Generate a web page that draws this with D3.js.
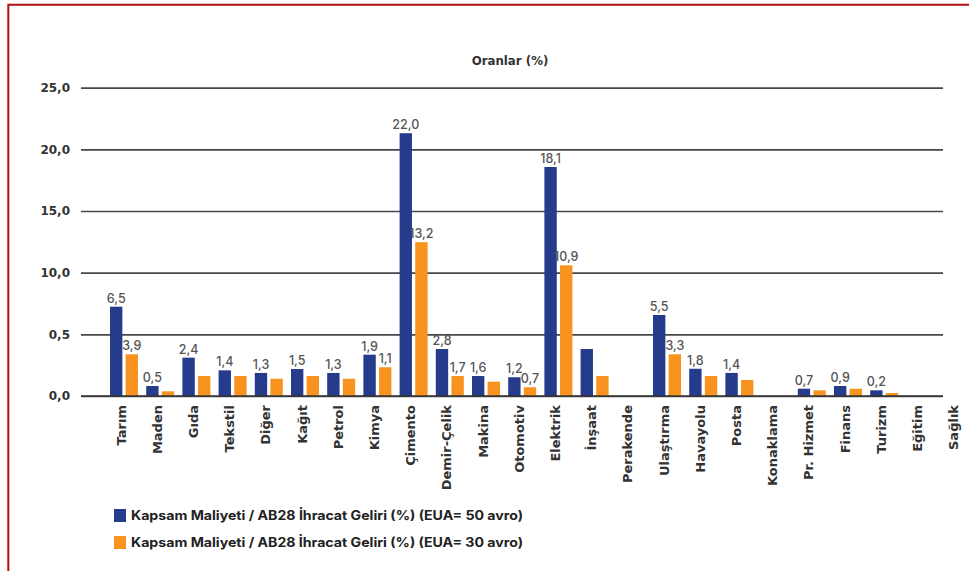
<!DOCTYPE html>
<html>
<head>
<meta charset="utf-8">
<script src="https://cdn.jsdelivr.net/npm/d3@7"></script>
<style>
  html, body { margin: 0; padding: 0; background: #fff; }
  svg { display: block; }
  text { font-family: Inter, "Open Sans", "DejaVu Sans", sans-serif; }
</style>
</head>
<body>
<svg id="chart" width="969" height="571"></svg>
<script>
// ---- Data ----
const categories = ["Tarım","Maden","Gıda","Tekstil","Diğer","Kağıt","Petrol","Kimya","Çimento","Demir-Çelik","Makina","Otomotiv","Elektrik","İnşaat","Perakende","Ulaştırma","Havayolu","Posta","Konaklama","Pr. Hizmet","Finans","Turizm","Eğitim","Sağlık"];
const series50 = [7.24,0.81,3.11,2.08,1.87,2.19,1.87,3.35,21.31,3.81,1.62,1.52,18.57,3.81,0,6.57,2.21,1.87,0,0.59,0.81,0.46,0,0];
const series30 = [3.38,0.38,1.62,1.62,1.40,1.62,1.40,2.33,12.47,1.62,1.16,0.71,10.60,1.62,0,3.38,1.62,1.30,0,0.46,0.59,0.24,0,0];
const labels50 = ["6,5","0,5","2,4","1,4","1,3","1,5","1,3","1,9","22,0","2,8","1,6","1,2","18,1","","","5,5","1,8","1,4","","0,7","0,9","0,2","",""];
const labels30 = ["3,9","","","","","","","1,1","13,2","1,7","","0,7","10,9","","","3,3","","","","","","","",""];
const tickValues = [0,5,10,15,20,25];
const tickLabels = ["0,0","0,5","10,0","15,0","20,0","25,0"];
const seriesNames = ["Kapsam Maliyeti / AB28 İhracat Geliri (%) (EUA= 50 avro)","Kapsam Maliyeti / AB28 İhracat Geliri (%) (EUA= 30 avro)"];
const seriesKeys = ["s50","s30"];
const colors = ["#253b8b","#f7931e"];

// ---- Layout ----
const svg = d3.select("#chart");
const plotLeft = 81, plotRight = 943, plotTop = 87.7, plotBottom = 396;
const boldWide = "'DejaVu Sans', Verdana, sans-serif";

// frame
svg.append("path")
  .attr("d", "M8.3,571 V4.8 H969")
  .attr("fill", "none")
  .attr("stroke", "#b0100f")
  .attr("stroke-width", 2);

const y = d3.scaleLinear().domain([0, 25]).range([plotBottom, plotTop]);
const step = 36.2, firstCenter = 124;
const x = d3.scaleBand().domain(categories)
  .range([firstCenter - step/2, firstCenter - step/2 + step * categories.length])
  .paddingInner(0).paddingOuter(0);
const groupW = 28;
const xs = d3.scaleBand().domain(seriesKeys).range([0, groupW]).paddingInner(0.21);

// title
svg.append("text")
  .attr("x", 510).attr("y", 64.5)
  .attr("text-anchor", "middle")
  .attr("font-size", 11.8).attr("font-weight", 700)
  .attr("fill", "#333")
  .style("font-family", boldWide)
  .text("Oranlar (%)");

// y axis + gridlines
const yAxis = d3.axisLeft(y)
  .tickValues(tickValues)
  .tickFormat((d, i) => tickLabels[i])
  .tickSize(-(plotRight - plotLeft))
  .tickPadding(11);
const ga = svg.append("g").attr("transform", `translate(${plotLeft},0)`).call(yAxis);
ga.select(".domain").remove();
ga.selectAll(".tick line").attr("stroke", "#474747").attr("stroke-width", 1.7);
ga.selectAll(".tick text")
  .attr("font-size", 12).attr("font-weight", 700)
  .attr("fill", "#333")
  .style("font-family", boldWide);

// bars
const rows = categories.map((c, i) => ({ cat: c, s50: series50[i], s30: series30[i], l50: labels50[i], l30: labels30[i] }));
const off = (x.bandwidth() - groupW) / 2;
const groups = svg.append("g").selectAll("g").data(rows).join("g")
  .attr("transform", d => `translate(${x(d.cat) + off},0)`);

seriesKeys.forEach((k, si) => {
  groups.filter(d => d[k] > 0).append("rect")
    .attr("x", xs(k))
    .attr("width", xs.bandwidth())
    .attr("y", d => y(d[k]))
    .attr("height", d => y(0) - y(d[k]))
    .attr("fill", colors[si]);
  const lk = si === 0 ? "l50" : "l30";
  groups.filter(d => d[lk] !== "").append("text")
    .attr("x", xs(k) + xs.bandwidth() / 2)
    .attr("y", d => y(d[k]) - 4)
    .attr("text-anchor", "middle")
    .attr("font-size", 12.5).attr("font-weight", 500)
    .attr("fill", "#555")
    .text(d => d[lk]);
});

// redraw baseline on top
svg.append("line")
  .attr("x1", plotLeft).attr("x2", plotRight)
  .attr("y1", y(0)).attr("y2", y(0))
  .attr("stroke", "#333").attr("stroke-width", 1.7);

// category labels
svg.append("g").selectAll("text").data(categories).join("text")
  .attr("transform", d => `translate(${x(d) + x.bandwidth() / 2 - 3},${plotBottom + 9}) rotate(-90)`)
  .attr("text-anchor", "end")
  .attr("dy", "0.36em")
  .attr("font-size", 13).attr("font-weight", 700)
  .attr("fill", "#333")
  .style("font-family", boldWide)
  .text(d => d);

// legend
const lg = svg.append("g").selectAll("g").data(seriesNames).join("g")
  .attr("transform", (d, i) => `translate(114,${509 + i * 27})`);
lg.append("rect").attr("width", 12).attr("height", 13).attr("fill", (d, i) => colors[i]);
lg.append("text")
  .attr("x", 17).attr("y", 11)
  .attr("font-size", 12.8).attr("font-weight", 700)
  .attr("fill", "#222")
  .attr("textLength", 392).attr("lengthAdjust", "spacingAndGlyphs")
  .text(d => d);
</script>
</body>
</html>
